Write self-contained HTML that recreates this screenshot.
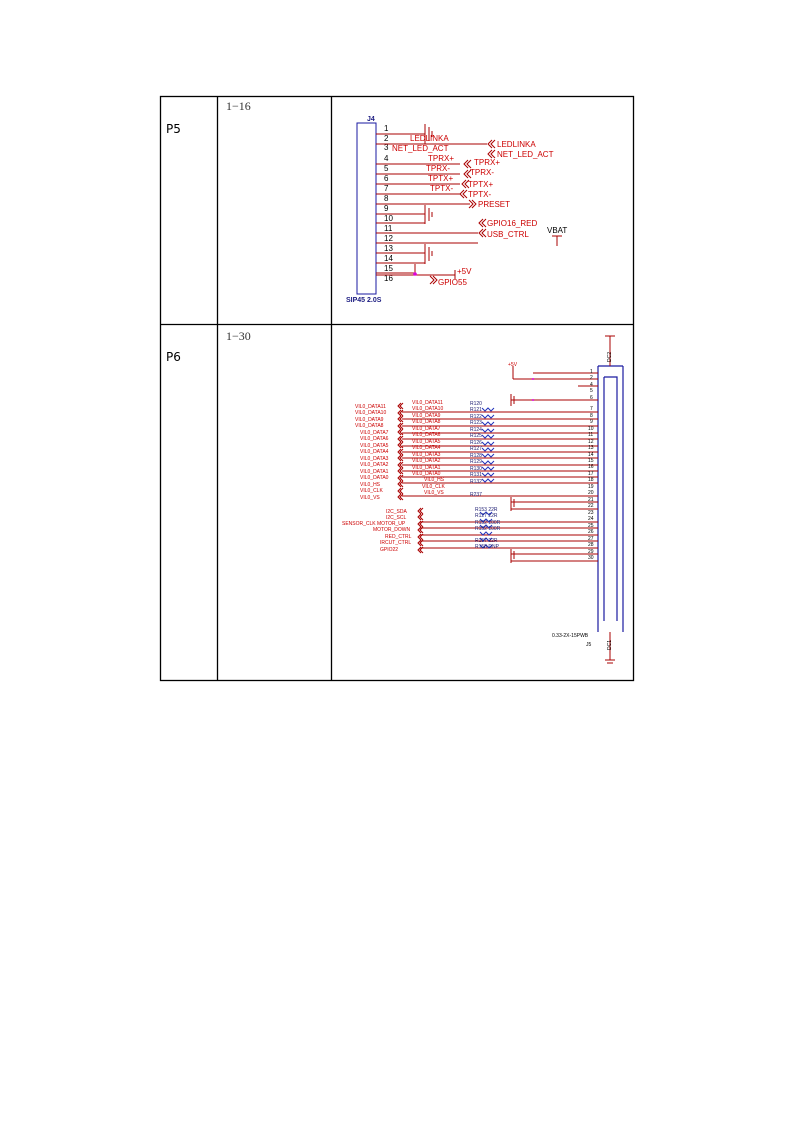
<!DOCTYPE html>
<html><head><meta charset="utf-8"><style>
body{margin:0;background:#fff;width:793px;height:1122px;position:relative;overflow:hidden}
.t{position:absolute;font-family:"Liberation Serif",serif;font-size:12px;color:#333}
.p{position:absolute;font-family:"DejaVu Sans",sans-serif;font-size:12px;color:#000}
</style></head><body>
<svg width="793" height="1122" style="position:absolute;left:0;top:0" font-family="Liberation Sans, sans-serif">
<g stroke="#000" stroke-width="1.3" fill="none">
<rect x="160.5" y="96.5" width="473" height="584"/>
<line x1="217.5" y1="96" x2="217.5" y2="681"/>
<line x1="331.5" y1="96" x2="331.5" y2="681"/>
<line x1="160" y1="324.5" x2="634" y2="324.5"/>
</g>
<!-- P5 schematic -->
<g stroke="#1a1aa0" stroke-width="1" fill="none"><rect x="357" y="123" width="19" height="171"/></g>
<text x="367" y="121" font-size="7" font-weight="bold" fill="#1a1a80">J4</text>
<text x="346" y="302" font-size="7" font-weight="bold" fill="#1a1a80">SIP45 2.0S</text>
<g font-size="8" fill="#000">
<text x="384" y="131">1</text><text x="384" y="141">2</text><text x="384" y="150">3</text><text x="384" y="161">4</text>
<text x="384" y="171">5</text><text x="384" y="181">6</text><text x="384" y="191">7</text><text x="384" y="201">8</text>
<text x="384" y="211">9</text><text x="384" y="221">10</text><text x="384" y="231">11</text><text x="384" y="241">12</text>
<text x="384" y="251">13</text><text x="384" y="261">14</text><text x="384" y="271">15</text><text x="384" y="281">16</text>
</g>
<g stroke="#a00" stroke-width="1" fill="none">
<line x1="376" y1="134" x2="425" y2="134"/><line x1="376" y1="144" x2="487" y2="144"/>
<line x1="376" y1="164" x2="460" y2="164"/><line x1="376" y1="174" x2="460" y2="174"/>
<line x1="376" y1="184" x2="460" y2="184"/><line x1="376" y1="194" x2="460" y2="194"/>
<line x1="376" y1="204" x2="470" y2="204"/><line x1="376" y1="214" x2="425" y2="214"/>
<line x1="376" y1="223" x2="425" y2="223"/><line x1="376" y1="233" x2="478" y2="233"/>
<line x1="376" y1="243" x2="478" y2="243"/><line x1="376" y1="253" x2="425" y2="253"/>
<line x1="376" y1="263" x2="425" y2="263"/><line x1="376" y1="273" x2="415" y2="273"/>
<line x1="415" y1="264" x2="415" y2="274"/><line x1="376" y1="275" x2="455" y2="275"/>
<line x1="425" y1="124" x2="425" y2="144"/><line x1="429" y1="127" x2="429" y2="141"/><line x1="432" y1="131" x2="432" y2="137"/>
<line x1="425" y1="205" x2="425" y2="224"/><line x1="429" y1="208" x2="429" y2="221"/><line x1="432" y1="212" x2="432" y2="217"/>
<line x1="425" y1="244" x2="425" y2="264"/><line x1="429" y1="247" x2="429" y2="261"/><line x1="432" y1="251" x2="432" y2="256"/>
<line x1="455" y1="270" x2="455" y2="279"/>
<line x1="557" y1="236" x2="557" y2="246"/><line x1="552" y1="236" x2="562" y2="236"/>
<path d="M492,140 l-4,4 l4,4 M495,140 l-4,4 l4,4 M492,150 l-4,4 l4,4 M495,150 l-4,4 l4,4"/>
<path d="M468,160 l-4,4 l4,4 M471,160 l-4,4 l4,4 M468,170 l-4,4 l4,4 M471,170 l-4,4 l4,4 M466,180 l-4,4 l4,4 M469,180 l-4,4 l4,4 M464,190 l-4,4 l4,4 M467,190 l-4,4 l4,4"/>
<path d="M469,200 l4,4 l-4,4 M472,200 l4,4 l-4,4 M430,276 l4,4 l-4,4 M433,276 l4,4 l-4,4"/>
<path d="M483,219 l-4,4 l4,4 M486,219 l-4,4 l4,4 M483,229 l-4,4 l4,4 M486,229 l-4,4 l4,4"/>
</g>
<circle cx="415" cy="274" r="1.8" fill="#d0d"/>
<g font-size="8" fill="#c00">
<text x="410" y="141">LEDLINKA</text><text x="392" y="151">NET_LED_ACT</text>
<text x="497" y="147">LEDLINKA</text><text x="497" y="157">NET_LED_ACT</text>
<text x="428" y="161">TPRX+</text><text x="426" y="171">TPRX-</text><text x="428" y="181">TPTX+</text><text x="430" y="191">TPTX-</text>
<text x="474" y="165">TPRX+</text><text x="470" y="175">TPRX-</text><text x="468" y="187">TPTX+</text><text x="468" y="197">TPTX-</text>
<text x="478" y="207">PRESET</text><text x="487" y="226">GPIO16_RED</text><text x="487" y="237">USB_CTRL</text>
<text x="457" y="274">+5V</text><text x="438" y="285">GPIO55</text>
</g>
<text x="547" y="233" font-size="8" fill="#000">VBAT</text>
<!-- P6 schematic -->
<g stroke="#1a1aa0" stroke-width="1.2" fill="none">
<path d="M598,366 V632 M623,366 V632 M598,366 H623"/>
<path d="M604,377 H617 V621 M604,377 V621"/>
</g>
<g stroke="#a00" stroke-width="1" fill="none">
<line x1="610" y1="336" x2="610" y2="366"/><line x1="605" y1="336" x2="615" y2="336"/>
<line x1="610" y1="632" x2="610" y2="660"/><line x1="605" y1="660" x2="615" y2="660"/><line x1="607" y1="663" x2="613" y2="663"/>
<line x1="533" y1="373" x2="598" y2="373"/><line x1="513" y1="379" x2="598" y2="379"/><line x1="513" y1="366" x2="513" y2="379"/>
<line x1="578" y1="386" x2="598" y2="386"/>
<line x1="511" y1="400" x2="598" y2="400"/><line x1="511" y1="394" x2="511" y2="406"/><line x1="514" y1="396" x2="514" y2="404"/>
<path d="M402,412 H598 M402,419 H598 M402,426 H598 M402,433 H598 M402,439 H598 M402,446 H598 M402,452 H598 M402,458 H598 M402,465 H598 M402,471 H598 M402,477 H598 M402,483 H598 M402,496 H598 M511,502 H598 M511,509 H598"/>
<line x1="511" y1="497" x2="511" y2="511"/><line x1="514" y1="499" x2="514" y2="507"/>
<path d="M420,522 H598 M420,528 H598 M420,535 H598 M420,541 H598 M420,548 H598 M511,554 H598 M511,561 H598"/>
<line x1="511" y1="549" x2="511" y2="563"/><line x1="514" y1="551" x2="514" y2="559"/>
<path d="M401,403 l-3,3 l3,3 M403,403 l-3,3 l3,3 M401,410 l-3,3 l3,3 M403,410 l-3,3 l3,3 M401,416 l-3,3 l3,3 M403,416 l-3,3 l3,3 M401,423 l-3,3 l3,3 M403,423 l-3,3 l3,3 M401,429 l-3,3 l3,3 M403,429 l-3,3 l3,3 M401,436 l-3,3 l3,3 M403,436 l-3,3 l3,3 M401,442 l-3,3 l3,3 M403,442 l-3,3 l3,3 M401,449 l-3,3 l3,3 M403,449 l-3,3 l3,3 M401,455 l-3,3 l3,3 M403,455 l-3,3 l3,3 M401,462 l-3,3 l3,3 M403,462 l-3,3 l3,3 M401,468 l-3,3 l3,3 M403,468 l-3,3 l3,3 M401,475 l-3,3 l3,3 M403,475 l-3,3 l3,3 M401,481 l-3,3 l3,3 M403,481 l-3,3 l3,3 M401,488 l-3,3 l3,3 M403,488 l-3,3 l3,3 M401,494 l-3,3 l3,3 M403,494 l-3,3 l3,3"/>
<path d="M421,508 l-3,3 l3,3 M423,508 l-3,3 l3,3 M421,514 l-3,3 l3,3 M423,514 l-3,3 l3,3 M421,521 l-3,3 l3,3 M423,521 l-3,3 l3,3 M421,527 l-3,3 l3,3 M423,527 l-3,3 l3,3 M421,534 l-3,3 l3,3 M423,534 l-3,3 l3,3 M421,540 l-3,3 l3,3 M423,540 l-3,3 l3,3 M421,547 l-3,3 l3,3 M423,547 l-3,3 l3,3"/>
</g>
<g stroke="#2233bb" stroke-width="1" fill="none">
<path d="M482,408 l3,3 l3,-3 l3,3 l3,-3 M482,415 l3,3 l3,-3 l3,3 l3,-3 M482,422 l3,3 l3,-3 l3,3 l3,-3 M482,429 l3,3 l3,-3 l3,3 l3,-3 M482,435 l3,3 l3,-3 l3,3 l3,-3 M482,442 l3,3 l3,-3 l3,3 l3,-3 M482,448 l3,3 l3,-3 l3,3 l3,-3 M482,454 l3,3 l3,-3 l3,3 l3,-3 M482,461 l3,3 l3,-3 l3,3 l3,-3 M482,467 l3,3 l3,-3 l3,3 l3,-3 M482,473 l3,3 l3,-3 l3,3 l3,-3 M482,479 l3,3 l3,-3 l3,3 l3,-3"/>
<path d="M480,512 l3,3 l3,-3 l3,3 l3,-3 M480,519 l3,3 l3,-3 l3,3 l3,-3 M480,525 l3,3 l3,-3 l3,3 l3,-3 M480,532 l3,3 l3,-3 l3,3 l3,-3 M480,538 l3,3 l3,-3 l3,3 l3,-3 M480,545 l3,3 l3,-3 l3,3 l3,-3"/>
</g>
<circle cx="533" cy="379" r="1" fill="#d0d"/><circle cx="533" cy="400" r="1" fill="#d0d"/>
<g font-size="5" fill="#000">
<text x="590" y="373">1</text><text x="590" y="379">2</text><text x="590" y="386">4</text><text x="590" y="392">5</text><text x="590" y="399">6</text>
<text x="590" y="410">7</text><text x="590" y="417">8</text><text x="590" y="423">9</text><text x="588" y="430">10</text><text x="588" y="436">11</text>
<text x="588" y="443">12</text><text x="588" y="449">13</text><text x="588" y="456">14</text><text x="588" y="462">15</text><text x="588" y="468">16</text>
<text x="588" y="475">17</text><text x="588" y="481">18</text><text x="588" y="488">19</text><text x="588" y="494">20</text><text x="588" y="501">21</text>
<text x="588" y="507">22</text><text x="588" y="514">23</text><text x="588" y="520">24</text><text x="588" y="527">25</text><text x="588" y="533">26</text>
<text x="588" y="540">27</text><text x="588" y="546">28</text><text x="588" y="553">29</text><text x="588" y="559">30</text>
<text x="552" y="637">0.33-2X-15PWB</text><text x="586" y="646">J5</text>
</g>
<g font-size="5" fill="#1a1a70">
<text x="470" y="405">R120</text><text x="470" y="411">R121</text><text x="470" y="418">R122</text><text x="470" y="424">R123</text><text x="470" y="431">R124</text>
<text x="470" y="437">R125</text><text x="470" y="444">R126</text><text x="470" y="450">R127</text><text x="470" y="457">R128</text><text x="470" y="463">R129</text>
<text x="470" y="470">R130</text><text x="470" y="476">R131</text><text x="470" y="483">R132</text><text x="470" y="496">R237</text>
<text x="475" y="511">R153 22R</text><text x="475" y="517">R127 22R</text><text x="475" y="524">R152 100R</text><text x="475" y="530">R152 100R</text>
<text x="475" y="542">R157 22R</text><text x="475" y="548">R158 DNP</text>
</g>
<g font-size="5" fill="#c00">
<text x="412" y="404">VIL0_DATA11</text><text x="412" y="410">VIL0_DATA10</text><text x="412" y="417">VIL0_DATA9</text><text x="412" y="423">VIL0_DATA8</text>
<text x="412" y="430">VIL0_DATA7</text><text x="412" y="436">VIL0_DATA6</text><text x="412" y="443">VIL0_DATA5</text><text x="412" y="449">VIL0_DATA4</text>
<text x="412" y="456">VIL0_DATA3</text><text x="412" y="462">VIL0_DATA2</text><text x="412" y="469">VIL0_DATA1</text><text x="412" y="475">VIL0_DATA0</text>
<text x="424" y="481">VIL0_HS</text><text x="422" y="488">VIL0_CLK</text><text x="424" y="494">VIL0_VS</text>
<text x="355" y="408">VIL0_DATA11</text><text x="355" y="414">VIL0_DATA10</text><text x="355" y="421">VIL0_DATA9</text><text x="355" y="427">VIL0_DATA8</text>
<text x="360" y="434">VIL0_DATA7</text><text x="360" y="440">VIL0_DATA6</text><text x="360" y="447">VIL0_DATA5</text><text x="360" y="453">VIL0_DATA4</text>
<text x="360" y="460">VIL0_DATA3</text><text x="360" y="466">VIL0_DATA2</text><text x="360" y="473">VIL0_DATA1</text><text x="360" y="479">VIL0_DATA0</text>
<text x="360" y="486">VIL0_HS</text><text x="360" y="492">VIL0_CLK</text><text x="360" y="499">VIL0_VS</text>
<text x="386" y="513">I2C_SDA</text><text x="386" y="519">I2C_SCL</text><text x="342" y="525">SENSOR_CLK MOTOR_UP</text><text x="373" y="531">MOTOR_DOWN</text>
<text x="385" y="538">RED_CTRL</text><text x="380" y="544">IRCUT_CTRL</text><text x="380" y="551">GPIO22</text>
<text x="508" y="366">+5V</text>
</g>
<text x="611" y="362" font-size="5" fill="#000" transform="rotate(-90 611 362)">DC2</text>
<text x="611" y="650" font-size="5" fill="#000" transform="rotate(-90 611 650)">DC1</text>
</svg>
<div class="p" style="left:166px;top:122px">P5</div>
<div class="p" style="left:166px;top:350px">P6</div>
<div class="t" style="left:226px;top:99px">1−16</div>
<div class="t" style="left:226px;top:329px">1−30</div>
</body></html>
